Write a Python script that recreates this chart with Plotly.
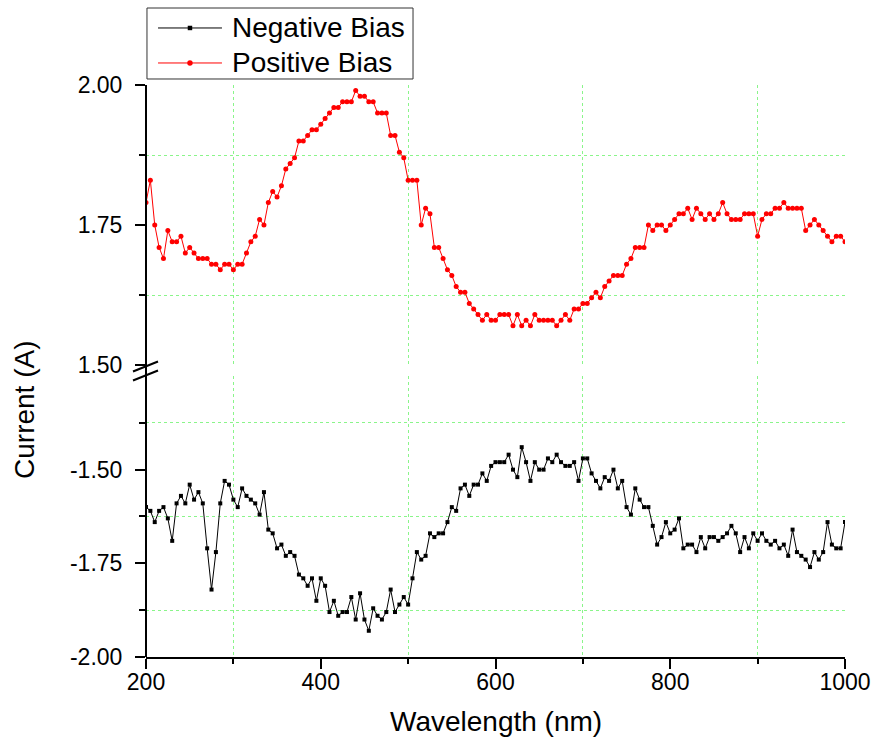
import plotly.graph_objects as go

# Wavelength sweep (nm), 5 nm steps
wavelength = list(range(200, 1001, 5))

# Photocurrent under positive bias (A)
positive_bias = [
    1.79, 1.83, 1.75, 1.71, 1.69, 1.74, 1.72, 1.72, 1.73, 1.70,
    1.71, 1.70, 1.69, 1.69, 1.69, 1.68, 1.68, 1.67, 1.68, 1.68,
    1.67, 1.68, 1.68, 1.70, 1.72, 1.73, 1.76, 1.75, 1.79, 1.81,
    1.80, 1.82, 1.85, 1.86, 1.87, 1.90, 1.90, 1.91, 1.92, 1.92,
    1.93, 1.94, 1.95, 1.96, 1.96, 1.97, 1.97, 1.97, 1.99, 1.98,
    1.98, 1.97, 1.97, 1.95, 1.95, 1.95, 1.91, 1.91, 1.88, 1.87,
    1.83, 1.83, 1.83, 1.75, 1.78, 1.77, 1.71, 1.71, 1.69, 1.67,
    1.66, 1.64, 1.63, 1.63, 1.61, 1.60, 1.59, 1.58, 1.59, 1.58,
    1.58, 1.59, 1.59, 1.59, 1.57, 1.59, 1.57, 1.58, 1.57, 1.59,
    1.58, 1.58, 1.58, 1.58, 1.57, 1.58, 1.59, 1.58, 1.60, 1.60,
    1.61, 1.61, 1.62, 1.63, 1.62, 1.64, 1.65, 1.66, 1.66, 1.66,
    1.68, 1.69, 1.71, 1.71, 1.71, 1.75, 1.74, 1.75, 1.75, 1.74,
    1.75, 1.76, 1.77, 1.77, 1.78, 1.76, 1.78, 1.77, 1.76, 1.77,
    1.76, 1.77, 1.79, 1.77, 1.76, 1.76, 1.76, 1.77, 1.77, 1.77,
    1.73, 1.76, 1.77, 1.77, 1.78, 1.78, 1.79, 1.78, 1.78, 1.78,
    1.78, 1.74, 1.75, 1.76, 1.75, 1.74, 1.73, 1.72, 1.73, 1.73,
    1.72,
]

# Photocurrent under negative bias (A)
negative_bias = [
    -1.60, -1.61, -1.64, -1.61, -1.60, -1.63, -1.69, -1.59, -1.57, -1.59,
    -1.54, -1.58, -1.56, -1.59, -1.71, -1.82, -1.72, -1.59, -1.53, -1.54,
    -1.58, -1.60, -1.55, -1.57, -1.58, -1.59, -1.62, -1.56, -1.66, -1.67,
    -1.71, -1.70, -1.73, -1.72, -1.73, -1.78, -1.79, -1.81, -1.79, -1.85,
    -1.79, -1.81, -1.88, -1.85, -1.89, -1.88, -1.88, -1.84, -1.90, -1.83,
    -1.90, -1.93, -1.87, -1.89, -1.90, -1.88, -1.82, -1.88, -1.86, -1.84,
    -1.86, -1.79, -1.72, -1.74, -1.73, -1.67, -1.68, -1.67, -1.67, -1.64,
    -1.60, -1.61, -1.55, -1.54, -1.57, -1.54, -1.54, -1.51, -1.53, -1.49,
    -1.48, -1.48, -1.48, -1.46, -1.50, -1.52, -1.44, -1.48, -1.53, -1.48,
    -1.50, -1.50, -1.47, -1.48, -1.46, -1.48, -1.49, -1.49, -1.48, -1.53,
    -1.47, -1.47, -1.51, -1.53, -1.55, -1.52, -1.53, -1.50, -1.55, -1.53,
    -1.60, -1.62, -1.55, -1.58, -1.60, -1.60, -1.65, -1.70, -1.68, -1.64,
    -1.67, -1.66, -1.63, -1.71, -1.70, -1.70, -1.72, -1.68, -1.71, -1.68,
    -1.68, -1.69, -1.68, -1.67, -1.65, -1.67, -1.72, -1.68, -1.71, -1.67,
    -1.69, -1.67, -1.69, -1.70, -1.69, -1.71, -1.70, -1.73, -1.66, -1.72,
    -1.73, -1.74, -1.76, -1.72, -1.74, -1.72, -1.64, -1.70, -1.71, -1.71,
    -1.64,
]

# Axis ticks
x_major = [200, 400, 600, 800, 1000]
x_minor = [300, 500, 700, 900]
top_major = [1.50, 1.75, 2.00]
top_minor = [1.625, 1.875]
bottom_major = [-2.00, -1.75, -1.50]
bottom_minor = [-1.875, -1.625, -1.375]

series_names = ["Negative Bias", "Positive Bias"]
series_colors = ["black", "red"]

FONT = "Liberation Sans, Arial, sans-serif"
GRID = "#8af58a"

fig = go.Figure()
fig.add_trace(go.Scatter(
    x=wavelength, y=negative_bias, xaxis="x", yaxis="y2",
    mode="lines+markers", name=series_names[0],
    line=dict(color=series_colors[0], width=1),
    marker=dict(symbol="square", size=4, color=series_colors[0]),
))
fig.add_trace(go.Scatter(
    x=wavelength, y=positive_bias, xaxis="x", yaxis="y",
    mode="lines+markers", name=series_names[1],
    line=dict(color=series_colors[1], width=1),
    marker=dict(symbol="circle", size=5, color=series_colors[1]),
))


def y_axis(domain, rng, major, minor):
    return dict(
        domain=domain, range=rng, anchor="x",
        tickmode="array", tickvals=major,
        ticktext=[f"{v:.2f}" for v in major],
        ticks="outside", ticklen=10, tickwidth=2, tickcolor="black",
        ticklabelstandoff=8,
        showline=False, showgrid=False, zeroline=False,
        tickfont=dict(size=23, color="black", family=FONT),
        minor=dict(tickmode="array", tickvals=minor, ticks="outside",
                   ticklen=6, tickwidth=2, tickcolor="black",
                   showgrid=True, gridcolor=GRID, griddash="dot", gridwidth=1),
    )


# Broken axis: lower panel for the negative branch, upper for the positive one
low_top = 0.4913
high_bottom = 0.5105

shapes = [
    # left axis line spanning both panels
    dict(type="line", xref="paper", yref="paper", x0=0, x1=0, y0=0, y1=1,
         line=dict(color="black", width=2)),
    # axis-break marks
    dict(type="line", xref="paper", yref="paper",
         x0=-0.0186, x1=0.0172, y0=0.4991, y1=0.5166,
         line=dict(color="black", width=2)),
    dict(type="line", xref="paper", yref="paper",
         x0=-0.0186, x1=0.0172, y0=0.4834, y1=0.5009,
         line=dict(color="black", width=2)),
    # legend frame
    dict(type="rect", xref="paper", yref="paper",
         x0=0.0014, x1=0.382, y0=1.0105, y1=1.1346,
         line=dict(color="#333333", width=1), fillcolor="white"),
]

annotations = [
    dict(text="Current (A)", textangle=-90, x=-0.173, y=0.432,
         xref="paper", yref="paper", xanchor="center", yanchor="middle",
         showarrow=False, font=dict(size=28, family=FONT, color="black")),
    dict(text="Wavelength (nm)", x=0.5, y=-0.1136,
         xref="paper", yref="paper", xanchor="center", yanchor="middle",
         showarrow=False, font=dict(size=28, family=FONT, color="black")),
]

# legend entries: sample line, marker and label per series
legend_rows = [1.0997, 1.0385]
for name, color, row, symbol in zip(series_names, series_colors, legend_rows,
                                    ["square", "circle"]):
    shapes.append(dict(type="line", xref="paper", yref="paper",
                       x0=0.0172, x1=0.1087, y0=row, y1=row,
                       line=dict(color=color, width=1)))
    if symbol == "square":
        shapes.append(dict(type="rect", xref="paper", yref="paper",
                           x0=0.0629 - 0.0032, x1=0.0629 + 0.0032,
                           y0=row - 0.0039, y1=row + 0.0039,
                           line=dict(width=0), fillcolor=color))
    else:
        shapes.append(dict(type="circle", xref="paper", yref="paper",
                           x0=0.0629 - 0.0039, x1=0.0629 + 0.0039,
                           y0=row - 0.0048, y1=row + 0.0048,
                           line=dict(width=0), fillcolor=color))
    annotations.append(dict(text=name, x=0.1202, y=row,
                            xref="paper", yref="paper",
                            xanchor="left", yanchor="middle", showarrow=False,
                            font=dict(size=28, family=FONT, color="black")))

fig.update_layout(
    width=872, height=750,
    margin=dict(l=146, r=27, t=85, b=93, autoexpand=False),
    paper_bgcolor="white", plot_bgcolor="white",
    font=dict(family=FONT, color="black"),
    xaxis=dict(
        domain=[0, 1], range=[200, 1000], anchor="y2",
        tickmode="array", tickvals=x_major,
        ticks="outside", ticklen=10, tickwidth=2, tickcolor="black",
        ticklabelstandoff=-7,
        showline=True, linewidth=2, linecolor="black",
        showgrid=False, zeroline=False, automargin=False,
        tickfont=dict(size=23, color="black", family=FONT),
        minor=dict(tickmode="array", tickvals=x_minor, ticks="outside",
                   ticklen=5, tickwidth=2, tickcolor="black",
                   showgrid=True, gridcolor=GRID, griddash="dot", gridwidth=1),
    ),
    yaxis=y_axis([high_bottom, 1], [1.50, 2.00], top_major, top_minor),
    yaxis2=y_axis([0, low_top], [-2.00, -1.25], bottom_major, bottom_minor),
    showlegend=False,
    annotations=annotations,
    shapes=shapes,
)

fig.write_html("out.html")
